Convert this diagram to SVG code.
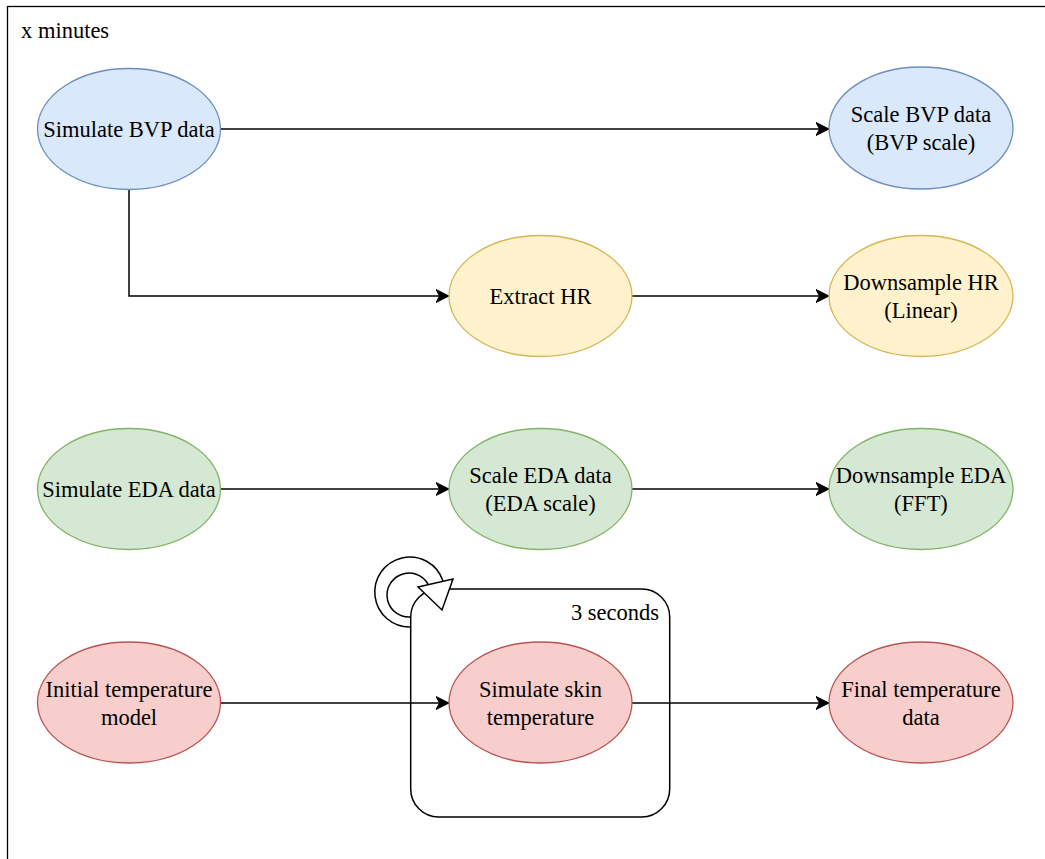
<svg xmlns="http://www.w3.org/2000/svg" width="1045" height="859" viewBox="0 0 1045 859">
<style>
  text { font-family: "Liberation Serif", "Times New Roman", serif; font-size: 22.5px; fill: #000; }
  .c { text-anchor: middle; }
  .edge { fill: none; stroke: #000; stroke-width: 1.5; }
  .blue { fill: #dae8fc; stroke: #6c8ebf; stroke-width: 1.3; }
  .yellow { fill: #fff2cc; stroke: #d6b656; stroke-width: 1.3; }
  .green { fill: #d5e8d4; stroke: #82b366; stroke-width: 1.3; }
  .red { fill: #f8cecc; stroke: #b85450; stroke-width: 1.3; }
</style>
<defs>
  <marker id="arr" markerUnits="userSpaceOnUse" markerWidth="14" markerHeight="14" refX="13" refY="7" orient="auto" viewBox="0 0 14 14">
    <path d="M0,0.5 L13,7 L0,13.5 L3.5,7 Z" fill="#000" stroke="#000" stroke-width="1"/>
  </marker>
</defs>
<rect width="1045" height="859" fill="#fff"/>
<g id="frame">
  <rect x="7.5" y="6.5" width="1100" height="900" fill="none" stroke="#000" stroke-width="1.3"/>
  <text x="21" y="38">x minutes</text>
</g>
<g id="loop-container">
  <rect x="410.7" y="589" width="259" height="228" rx="28" ry="28" fill="none" stroke="#000" stroke-width="1.5"/>
  <text x="659" y="620" text-anchor="end">3 seconds</text>
</g>
<g id="connectors">
  <path class="edge" d="M220.5,129 L829,129" marker-end="url(#arr)"/>
  <path class="edge" d="M129,190 L129,296 L449,296" marker-end="url(#arr)"/>
  <path class="edge" d="M632,296 L829,296" marker-end="url(#arr)"/>
  <path class="edge" d="M221,489 L449,489" marker-end="url(#arr)"/>
  <path class="edge" d="M632,489 L829,489" marker-end="url(#arr)"/>
  <path class="edge" d="M221,703 L449,703" marker-end="url(#arr)"/>
  <path class="edge" d="M632,703 L829,703" marker-end="url(#arr)"/>
  <g id="self-loop">
    <path class="edge" d="M411,627 A35,35 0 1 1 443,581"/>
    <path class="edge" d="M411,617 A22,22 0 1 1 428,584"/>
    <polygon points="418,587 453,579 442,610" fill="#fff" stroke="#000" stroke-width="1.5" stroke-linejoin="miter"/>
  </g>
</g>
<g id="simulate-bvp">
  <ellipse class="blue" cx="129" cy="129" rx="91.5" ry="60.5"/>
  <text class="c" x="129" y="137">Simulate BVP data</text>
</g>
<g id="scale-bvp">
  <ellipse class="blue" cx="921" cy="128" rx="92" ry="61"/>
  <text class="c" x="921" y="122">Scale BVP data</text>
  <text class="c" x="921" y="150">(BVP scale)</text>
</g>
<g id="extract-hr">
  <ellipse class="yellow" cx="540.5" cy="296" rx="91.5" ry="60.5"/>
  <text class="c" x="540.5" y="304">Extract HR</text>
</g>
<g id="downsample-hr">
  <ellipse class="yellow" cx="921" cy="296" rx="92" ry="60.5"/>
  <text class="c" x="921" y="290">Downsample HR</text>
  <text class="c" x="921" y="318">(Linear)</text>
</g>
<g id="simulate-eda">
  <ellipse class="green" cx="129" cy="489" rx="91.5" ry="60.5"/>
  <text class="c" x="129" y="497">Simulate EDA data</text>
</g>
<g id="scale-eda">
  <ellipse class="green" cx="540.5" cy="489" rx="91.5" ry="60.5"/>
  <text class="c" x="540.5" y="483">Scale EDA data</text>
  <text class="c" x="540.5" y="511">(EDA scale)</text>
</g>
<g id="downsample-eda">
  <ellipse class="green" cx="921" cy="489" rx="92" ry="60.5"/>
  <text class="c" x="921" y="483">Downsample EDA</text>
  <text class="c" x="921" y="511">(FFT)</text>
</g>
<g id="initial-temp">
  <ellipse class="red" cx="129" cy="702.5" rx="91.5" ry="60.5"/>
  <text class="c" x="129" y="697">Initial temperature</text>
  <text class="c" x="129" y="725">model</text>
</g>
<g id="simulate-skin">
  <ellipse class="red" cx="540.5" cy="702.5" rx="91.5" ry="60.5"/>
  <text class="c" x="540.5" y="697">Simulate skin</text>
  <text class="c" x="540.5" y="725">temperature</text>
</g>
<g id="final-temp">
  <ellipse class="red" cx="921" cy="702.5" rx="92" ry="60.5"/>
  <text class="c" x="921" y="697">Final temperature</text>
  <text class="c" x="921" y="725">data</text>
</g>
</svg>
